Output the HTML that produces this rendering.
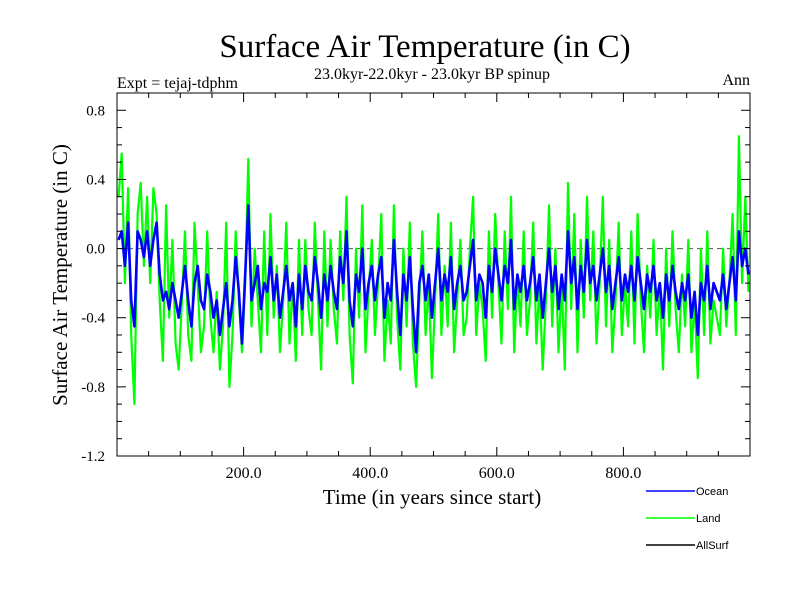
<!DOCTYPE html>
<html><head><meta charset="utf-8"><style>
html,body{margin:0;padding:0;background:#fff;}
svg{display:block;font-family:"Liberation Serif",serif;}
</style></head><body>
<svg id="chart" width="800" height="600">
<text x="425" y="57" font-size="33" text-anchor="middle">Surface Air Temperature (in C)</text>
<text x="432" y="79" font-size="16" text-anchor="middle">23.0kyr-22.0kyr - 23.0kyr BP spinup</text>
<text x="117" y="88" font-size="16">Expt = tejaj-tdphm</text>
<text x="750" y="85" font-size="16" text-anchor="end">Ann</text>
<text x="432" y="504" font-size="21" text-anchor="middle">Time (in years since start)</text>
<text transform="translate(67,275) rotate(-90)" font-size="21" text-anchor="middle">Surface Air Temperature (in C)</text>
<g id="plot"></g>
<g id="legend" font-family="Liberation Sans, sans-serif" font-size="11">
<g><line x1="646" y1="491" x2="695" y2="491" stroke="#0000ff" stroke-width="1.5"/><text x="696" y="495">Ocean</text></g>
<g><line x1="646" y1="518" x2="695" y2="518" stroke="#00ff00" stroke-width="1.5"/><text x="696" y="522">Land</text></g>
<g><line x1="646" y1="545" x2="695" y2="545" stroke="#000" stroke-width="1.5"/><text x="696" y="549">AllSurf</text></g>
</g>
</svg>
<script>
const xTickValues=[200,400,600,800];
const xTickLabels=["200.0","400.0","600.0","800.0"];
const yTickValues=[0.8,0.4,0.0,-0.4,-0.8,-1.2];
const yTickLabels=["0.8","0.4","0.0","-0.4","-0.8","-1.2"];
const yearStep=5;
const ocean=[0.05,0.1,-0.1,0.15,-0.3,-0.45,0.1,0.05,-0.05,0.1,
-0.1,0.05,0.15,-0.15,-0.3,-0.25,-0.35,-0.2,-0.3,-0.4,
-0.25,-0.1,-0.3,-0.45,-0.2,-0.1,-0.3,-0.35,-0.15,-0.25,
-0.4,-0.3,-0.5,-0.35,-0.2,-0.45,-0.3,-0.05,-0.25,-0.55,
-0.15,0.25,-0.3,-0.2,-0.1,-0.35,-0.2,-0.25,-0.05,-0.3,
-0.15,-0.4,-0.25,-0.1,-0.3,-0.2,-0.45,-0.15,-0.35,-0.1,
-0.25,-0.3,-0.05,-0.2,-0.4,-0.15,-0.3,-0.1,-0.25,-0.35,
-0.05,-0.2,0.1,-0.3,-0.45,-0.15,-0.25,0.0,-0.35,-0.2,
-0.1,-0.3,-0.15,-0.05,-0.4,-0.2,-0.3,0.05,-0.25,-0.5,
-0.15,-0.3,-0.05,-0.35,-0.6,-0.2,-0.1,-0.3,-0.15,-0.4,
-0.2,0.0,-0.3,-0.15,-0.25,-0.05,-0.35,-0.2,-0.1,-0.3,
-0.25,-0.1,0.05,-0.3,-0.15,-0.2,-0.4,-0.1,-0.25,0.0,
-0.15,-0.3,-0.1,-0.2,0.05,-0.35,-0.15,-0.25,-0.1,-0.3,
-0.2,-0.05,-0.3,-0.15,-0.4,-0.2,0.0,-0.25,-0.1,-0.35,
-0.15,-0.3,0.1,-0.2,-0.05,-0.35,-0.1,-0.25,0.05,-0.2,
-0.1,-0.3,-0.15,0.0,-0.25,-0.1,-0.35,-0.2,-0.05,-0.3,
-0.15,-0.25,-0.1,-0.3,-0.05,-0.2,-0.35,-0.15,-0.25,-0.1,
-0.3,-0.2,-0.4,-0.15,-0.3,-0.1,-0.25,-0.35,-0.2,-0.3,
-0.15,-0.4,-0.25,-0.5,-0.2,-0.3,-0.1,-0.35,-0.2,-0.25,
-0.3,-0.15,-0.35,-0.2,-0.05,-0.3,0.1,-0.1,0.0,-0.15];
const land=[0.3,0.55,-0.2,0.35,-0.5,-0.9,0.2,0.38,-0.1,0.3,
-0.2,0.35,0.2,-0.3,-0.65,0.25,-0.4,0.05,-0.55,-0.7,
-0.3,0.1,-0.5,-0.65,0.15,-0.2,-0.6,-0.45,0.1,-0.4,
-0.6,-0.25,-0.7,-0.45,0.15,-0.8,-0.5,0.1,-0.3,-0.6,
-0.2,0.52,-0.45,0.0,-0.3,-0.6,0.1,-0.5,0.2,-0.4,
-0.1,-0.6,-0.3,0.15,-0.55,-0.2,-0.65,0.05,-0.5,0.05,
-0.35,-0.5,0.15,-0.3,-0.7,0.1,-0.45,0.05,-0.35,-0.55,
0.1,-0.3,0.3,-0.5,-0.78,0.0,-0.4,0.25,-0.6,-0.25,
0.05,-0.5,-0.2,0.2,-0.65,-0.3,-0.55,0.25,-0.4,-0.7,
0.0,-0.45,0.15,-0.55,-0.8,-0.3,0.1,-0.5,-0.2,-0.75,
-0.3,0.2,-0.5,-0.1,-0.45,0.15,-0.6,-0.3,0.05,-0.5,
-0.4,0.0,0.3,-0.5,-0.2,-0.35,-0.65,0.1,-0.4,0.2,
-0.2,-0.55,0.1,-0.35,0.3,-0.6,-0.15,-0.45,0.1,-0.5,
-0.3,0.15,-0.55,-0.2,-0.7,-0.3,0.25,-0.45,0.0,-0.6,
-0.2,-0.7,0.38,-0.35,0.2,-0.6,0.05,-0.4,0.3,-0.3,
0.1,-0.55,-0.2,0.3,-0.45,0.05,-0.6,-0.3,0.15,-0.5,
-0.2,-0.45,0.1,-0.55,0.2,-0.3,-0.6,-0.1,-0.4,0.05,
-0.5,-0.2,-0.7,0.0,-0.45,0.1,-0.35,-0.6,-0.15,-0.45,
0.05,-0.6,-0.3,-0.75,0.0,-0.5,0.1,-0.55,-0.3,-0.4,
-0.5,0.0,-0.45,-0.2,0.2,-0.5,0.65,-0.2,0.3,-0.25];

const L=117,R=750,T=93,B=456,xMin=0,xMax=1000,yMin=-1.2,yMax=0.9;
const sx=v=>L+(v-xMin)/(xMax-xMin)*(R-L);
const sy=v=>B-(v-yMin)/(yMax-yMin)*(B-T);
const NS="http://www.w3.org/2000/svg";
const plot=document.getElementById('plot');
function mk(tag,attrs){const e=document.createElementNS(NS,tag);for(const k in attrs)e.setAttribute(k,attrs[k]);return e;}

function series(vals,color,name,w){
  const pts=vals.map((v,i)=>sx(i*yearStep+2.5).toFixed(1)+","+sy(v).toFixed(1)).join(" ");
  const p=mk('polyline',{points:pts,fill:'none',stroke:color,'stroke-width':w,'stroke-linejoin':'round'});
  
  
  plot.appendChild(p);
}
const z=mk('line',{x1:L,x2:R,y1:sy(0),y2:sy(0),stroke:'#555','stroke-dasharray':'6,4','stroke-width':1});


plot.appendChild(z);
series(land,'#00ff00','land-line',2.2);
series(ocean,'#0000ff','ocean-line',2.6);

const f=mk('rect',{x:L,y:T,width:R-L,height:B-T,fill:'none',stroke:'#000','stroke-width':1});


plot.appendChild(f);

for(let v=50;v<xMax;v+=50){
  const major=v%200===0, len=major?9:5;
  [[B,B-len],[T,T+len]].forEach(([a,b])=>{
    const t=mk('line',{x1:sx(v),x2:sx(v),y1:a,y2:b,stroke:'#000','stroke-width':1});
    
    
    plot.appendChild(t);
  });
}
xTickValues.forEach((v,i)=>{
  const t=mk('text',{x:sx(v),y:B+22,'font-size':16,'text-anchor':'middle'});
  t.textContent=xTickLabels[i];
  
  
  plot.appendChild(t);
});
for(let k=-12;k<=9;k++){
  const v=k/10, major=(k%4===0), len=major?9:5;
  [[L,L+len],[R,R-len]].forEach(([a,b])=>{
    const t=mk('line',{x1:a,x2:b,y1:sy(v),y2:sy(v),stroke:'#000','stroke-width':1});
    
    
    plot.appendChild(t);
  });
}
yTickValues.forEach((v,i)=>{
  const t=mk('text',{x:L-12,y:sy(v)+5,'font-size':15,'text-anchor':'end'});
  t.textContent=yTickLabels[i];
  
  
  plot.appendChild(t);
});
</script>
</body></html>
